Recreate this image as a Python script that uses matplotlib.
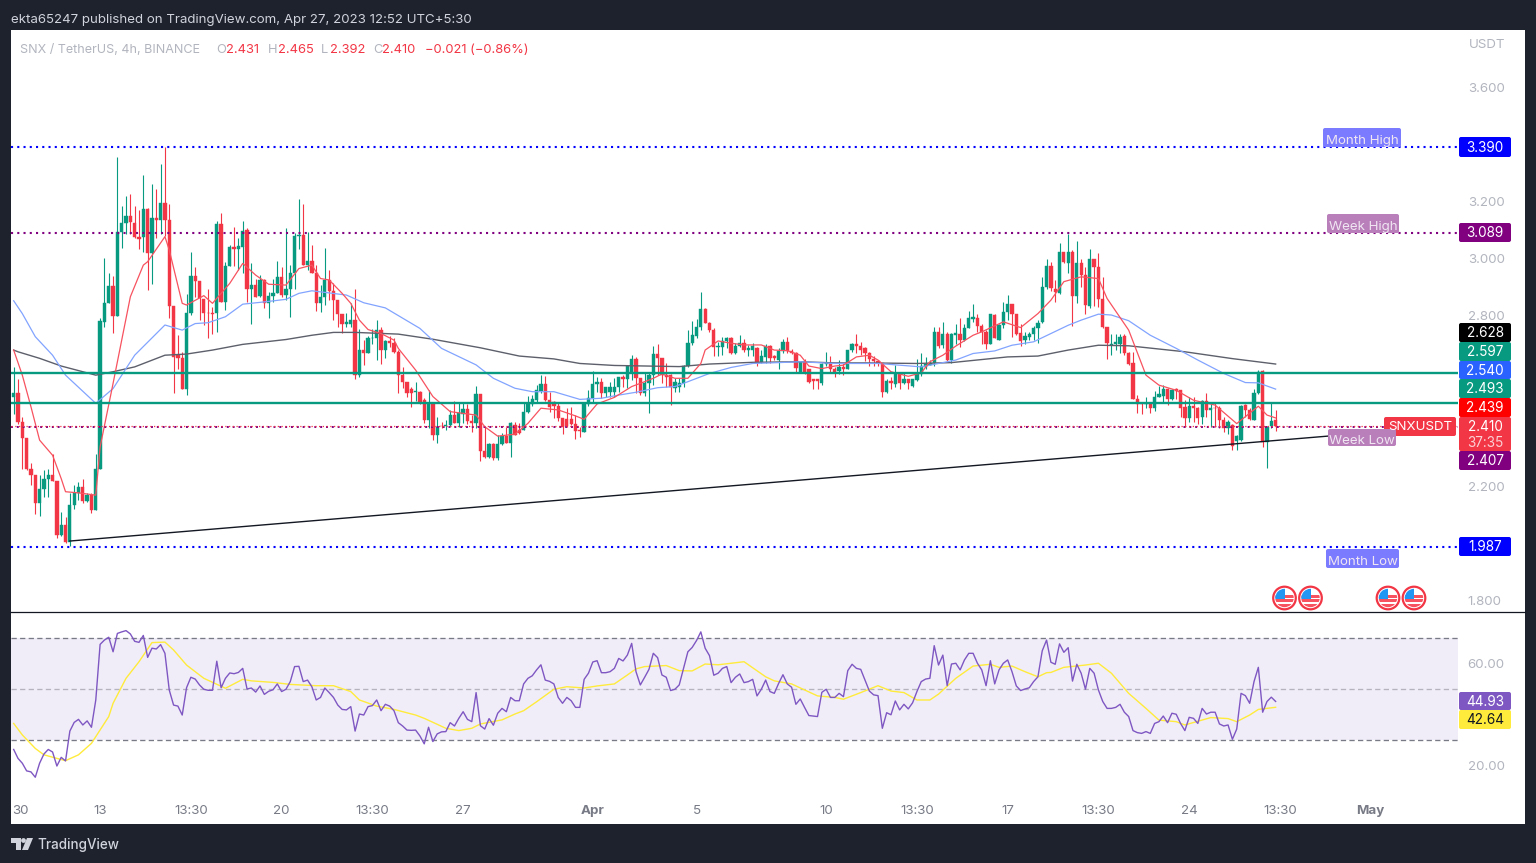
import numpy as np
import matplotlib
matplotlib.use("Agg")
import matplotlib.pyplot as plt
from matplotlib.patches import Rectangle, FancyBboxPatch, Circle, Polygon

plt.rcParams['font.family'] = ['Inter', 'DejaVu Sans']

# 4h candles
opens = [2.513,2.528,2.425,2.367,2.258,2.238,2.139,2.188,2.223,2.240,
 2.217,2.027,2.065,2.004,2.135,2.176,2.197,2.147,2.168,2.115,
 2.258,2.776,2.843,2.901,2.796,3.092,3.124,3.147,3.124,3.072,
 3.072,3.171,3.016,3.142,3.135,3.194,3.135,2.831,2.659,2.650,
 2.539,2.806,2.938,2.919,2.855,2.808,2.806,2.806,3.119,2.846,
 2.972,3.040,3.030,3.040,3.098,2.893,2.905,2.866,2.923,2.841,
 2.868,2.878,2.932,2.870,2.890,2.948,3.077,3.080,2.975,2.990,
 2.946,2.843,2.864,2.923,2.885,2.852,2.803,2.770,2.770,2.784,
 2.589,2.679,2.667,2.718,2.718,2.749,2.677,2.708,2.703,2.671,
 2.590,2.566,2.539,2.531,2.531,2.502,2.432,2.492,2.379,2.412,
 2.409,2.414,2.449,2.420,2.453,2.469,2.429,2.420,2.522,2.323,
 2.301,2.347,2.297,2.347,2.375,2.350,2.413,2.396,2.396,2.461,
 2.488,2.502,2.535,2.558,2.502,2.496,2.481,2.437,2.435,2.435,
 2.418,2.396,2.391,2.488,2.508,2.557,2.564,2.527,2.529,2.531,
 2.546,2.581,2.574,2.601,2.645,2.578,2.527,2.560,2.590,2.663,
 2.648,2.590,2.590,2.543,2.549,2.563,2.621,2.701,2.726,2.759,
 2.820,2.771,2.748,2.689,2.689,2.710,2.718,2.666,2.691,2.701,
 2.677,2.677,2.685,2.636,2.652,2.691,2.656,2.642,2.675,2.707,
 2.675,2.668,2.595,2.636,2.612,2.574,2.574,2.563,2.628,2.632,
 2.612,2.604,2.618,2.612,2.677,2.698,2.691,2.686,2.667,2.647,
 2.639,2.633,2.530,2.567,2.557,2.595,2.560,2.574,2.551,2.571,
 2.592,2.618,2.624,2.630,2.740,2.694,2.733,2.642,2.729,2.735,
 2.714,2.756,2.787,2.791,2.763,2.740,2.698,2.800,2.714,2.764,
 2.811,2.838,2.803,2.738,2.714,2.724,2.732,2.756,2.776,2.897,
 2.972,2.890,2.878,3.020,2.984,3.020,2.866,2.983,2.940,2.831,
 2.998,2.967,2.855,2.759,2.694,2.700,2.700,2.726,2.667,2.632,
 2.507,2.492,2.489,2.492,2.472,2.513,2.515,2.542,2.504,2.540,
 2.536,2.478,2.437,2.480,2.472,2.443,2.499,2.468,2.475,2.475,
 2.431,2.405,2.413,2.358,2.361,2.484,2.468,2.433,2.525,2.604,
 2.355,2.410,2.431]
closes = [2.528,2.425,2.367,2.258,2.238,2.139,2.188,2.223,2.240,2.217,
 2.027,2.065,2.004,2.135,2.176,2.197,2.147,2.168,2.115,2.261,
 2.780,2.841,2.901,2.796,3.092,3.124,3.147,3.127,3.072,3.068,
 3.171,3.016,3.142,3.135,3.194,3.135,2.831,2.653,2.650,2.539,
 2.806,2.938,2.919,2.858,2.808,2.806,2.803,3.119,2.846,2.972,
 3.040,3.030,3.042,3.094,2.893,2.905,2.864,2.923,2.841,2.868,
 2.878,2.932,2.870,2.890,2.948,3.077,3.080,2.975,2.990,2.946,
 2.843,2.864,2.923,2.885,2.852,2.803,2.770,2.775,2.784,2.589,
 2.679,2.667,2.718,2.721,2.749,2.677,2.708,2.703,2.671,2.589,
 2.566,2.525,2.527,2.533,2.490,2.432,2.492,2.379,2.408,2.409,
 2.414,2.449,2.420,2.457,2.469,2.429,2.420,2.522,2.323,2.301,
 2.347,2.297,2.347,2.375,2.350,2.420,2.379,2.385,2.461,2.492,
 2.504,2.537,2.558,2.502,2.478,2.481,2.437,2.408,2.412,2.418,
 2.394,2.394,2.488,2.508,2.557,2.564,2.527,2.546,2.546,2.549,
 2.581,2.574,2.621,2.645,2.578,2.527,2.560,2.590,2.663,2.648,
 2.590,2.581,2.546,2.564,2.563,2.621,2.701,2.730,2.759,2.820,
 2.771,2.748,2.689,2.691,2.710,2.718,2.666,2.691,2.701,2.677,
 2.683,2.691,2.633,2.656,2.691,2.648,2.648,2.675,2.707,2.675,
 2.666,2.613,2.636,2.597,2.566,2.569,2.569,2.628,2.632,2.609,
 2.597,2.618,2.612,2.677,2.698,2.693,2.679,2.665,2.644,2.639,
 2.632,2.530,2.567,2.560,2.595,2.560,2.576,2.562,2.574,2.592,
 2.622,2.628,2.630,2.740,2.691,2.733,2.642,2.733,2.738,2.714,
 2.756,2.791,2.794,2.763,2.740,2.698,2.802,2.721,2.764,2.811,
 2.840,2.803,2.735,2.709,2.726,2.732,2.756,2.773,2.897,2.972,
 2.895,2.881,3.020,2.987,3.020,2.866,2.983,2.940,2.835,2.998,
 2.969,2.855,2.759,2.702,2.700,2.706,2.724,2.665,2.628,2.507,
 2.489,2.487,2.492,2.472,2.513,2.522,2.542,2.504,2.536,2.533,
 2.475,2.437,2.480,2.472,2.440,2.499,2.466,2.472,2.472,2.433,
 2.405,2.425,2.340,2.375,2.480,2.468,2.435,2.525,2.601,2.355,
 2.408,2.429,2.410]
highs = [2.616,2.574,2.443,2.367,2.281,2.238,2.238,2.256,2.261,2.314,
 2.217,2.109,2.092,2.174,2.203,2.215,2.223,2.174,2.176,2.314,
 2.788,3.000,2.946,2.937,3.353,3.182,3.218,3.223,3.182,3.168,
 3.291,3.174,3.258,3.241,3.330,3.390,3.189,2.831,2.729,2.671,
 2.873,3.020,2.969,2.919,2.855,2.893,2.829,3.131,3.157,2.987,
 3.045,3.110,3.069,3.130,3.104,2.981,2.928,2.940,2.926,2.879,
 2.928,2.990,2.969,3.107,2.975,3.089,3.206,3.189,3.092,3.045,
 2.975,2.905,3.034,2.958,2.911,2.852,2.803,2.808,2.843,2.890,
 2.750,2.714,2.726,2.750,2.784,2.759,2.714,2.726,2.718,2.677,
 2.619,2.566,2.546,2.566,2.533,2.508,2.537,2.492,2.443,2.426,
 2.432,2.467,2.499,2.490,2.490,2.488,2.449,2.551,2.522,2.408,
 2.352,2.350,2.379,2.385,2.408,2.426,2.426,2.420,2.490,2.516,
 2.519,2.554,2.590,2.586,2.531,2.499,2.496,2.437,2.473,2.478,
 2.449,2.408,2.490,2.537,2.605,2.584,2.578,2.546,2.566,2.578,
 2.584,2.590,2.621,2.660,2.652,2.578,2.601,2.595,2.691,2.698,
 2.648,2.630,2.592,2.578,2.578,2.625,2.747,2.780,2.785,2.882,
 2.824,2.774,2.753,2.707,2.722,2.724,2.722,2.701,2.730,2.716,
 2.695,2.701,2.689,2.677,2.698,2.695,2.660,2.683,2.715,2.722,
 2.680,2.671,2.636,2.644,2.612,2.576,2.577,2.632,2.671,2.656,
 2.618,2.642,2.632,2.679,2.702,2.732,2.706,2.688,2.671,2.656,
 2.642,2.633,2.574,2.583,2.624,2.601,2.601,2.577,2.576,2.647,
 2.665,2.651,2.642,2.759,2.759,2.776,2.741,2.738,2.770,2.788,
 2.770,2.815,2.837,2.803,2.768,2.747,2.805,2.805,2.770,2.846,
 2.870,2.840,2.805,2.770,2.741,2.741,2.761,2.784,2.932,2.998,
 2.987,2.922,3.053,3.020,3.086,3.028,3.060,2.998,2.969,3.030,
 2.998,3.016,2.932,2.759,2.735,2.735,2.735,2.735,2.671,2.671,
 2.519,2.495,2.511,2.495,2.534,2.552,2.554,2.544,2.540,2.544,
 2.536,2.501,2.513,2.513,2.478,2.501,2.525,2.492,2.495,2.480,
 2.443,2.431,2.417,2.378,2.484,2.489,2.472,2.542,2.606,2.606,
 2.410,2.492,2.465]
lows = [2.452,2.419,2.261,2.256,2.203,2.101,2.095,2.162,2.162,2.217,
 2.019,2.024,2.000,1.989,2.121,2.150,2.141,2.144,2.107,2.115,
 2.258,2.759,2.841,2.738,2.796,3.034,3.084,3.084,3.069,3.030,
 3.022,2.887,2.908,3.069,3.086,3.077,2.791,2.527,2.609,2.539,
 2.519,2.800,2.862,2.782,2.765,2.721,2.733,2.741,2.846,2.817,
 2.972,2.972,2.958,2.946,2.846,2.770,2.864,2.864,2.823,2.791,
 2.846,2.878,2.864,2.852,2.794,2.893,3.030,2.975,2.958,2.946,
 2.815,2.811,2.835,2.852,2.784,2.759,2.738,2.759,2.759,2.577,
 2.583,2.624,2.665,2.700,2.642,2.628,2.648,2.689,2.667,2.527,
 2.543,2.514,2.478,2.499,2.488,2.420,2.402,2.361,2.350,2.402,
 2.396,2.412,2.420,2.408,2.420,2.418,2.391,2.402,2.288,2.297,
 2.297,2.291,2.291,2.344,2.350,2.303,2.379,2.382,2.396,2.455,
 2.481,2.496,2.525,2.499,2.461,2.437,2.429,2.382,2.408,2.414,
 2.364,2.373,2.391,2.481,2.496,2.531,2.508,2.511,2.511,2.514,
 2.531,2.546,2.543,2.572,2.525,2.519,2.516,2.455,2.554,2.590,
 2.560,2.549,2.484,2.531,2.531,2.549,2.616,2.695,2.718,2.747,
 2.771,2.742,2.656,2.656,2.660,2.683,2.663,2.663,2.689,2.671,
 2.656,2.656,2.621,2.633,2.633,2.633,2.642,2.609,2.668,2.668,
 2.663,2.601,2.595,2.592,2.560,2.542,2.542,2.554,2.622,2.595,
 2.583,2.592,2.591,2.610,2.671,2.667,2.659,2.639,2.622,2.621,
 2.622,2.511,2.525,2.542,2.548,2.542,2.557,2.542,2.548,2.569,
 2.585,2.612,2.624,2.622,2.686,2.683,2.638,2.632,2.700,2.688,
 2.709,2.756,2.776,2.739,2.700,2.680,2.698,2.718,2.712,2.753,
 2.782,2.724,2.729,2.691,2.698,2.712,2.714,2.702,2.773,2.893,
 2.884,2.846,2.873,2.981,2.946,2.761,2.843,2.899,2.802,2.826,
 2.831,2.829,2.756,2.647,2.659,2.677,2.665,2.659,2.624,2.505,
 2.457,2.454,2.475,2.457,2.464,2.511,2.495,2.484,2.501,2.507,
 2.443,2.408,2.425,2.425,2.419,2.417,2.443,2.408,2.408,2.405,
 2.390,2.384,2.328,2.326,2.358,2.443,2.431,2.431,2.522,2.337,
 2.264,2.405,2.392]

# moving averages, read at the bends (bar number, price)
red_bars = [1,3,5,7,10,12,13,16,20,21,24,28,31,32,36,37,40,41,45,47,51,54,57,60,64,67,70,72,74,77,79,81,83,86,89,90,
 94,98,102,105,108,110,113,117,120,123,127,131,133,136,140,144,147,149,151,154,157,160,161,164,167,170,174,177,180,
 183,185,188,191,193,196,199,201,204,208,211,213,216,219,223,225,230,234,238,241,244,248,252,254,259,263,266,270,274,279,284,289,291,293]
red_vals = [2.677,2.589,2.478,2.361,2.308,2.226,2.180,2.176,2.168,2.337,2.560,2.864,2.975,2.987,3.075,3.028,2.841,2.835,2.868,2.841,2.911,2.981,2.940,2.908,2.905,2.963,2.975,2.928,2.923,2.876,2.841,2.782,2.749,2.735,2.712,2.683,
 2.607,2.514,2.461,2.455,2.449,2.408,2.375,2.382,2.420,2.473,2.467,2.446,2.434,2.488,2.511,2.549,2.566,2.578,2.593,2.578,2.578,2.630,2.677,2.709,2.701,2.695,2.695,2.677,2.675,
 2.659,2.621,2.612,2.621,2.624,2.653,2.659,2.642,2.601,2.585,2.597,2.636,2.659,2.691,2.729,2.741,2.776,2.756,2.805,2.852,2.917,2.934,2.928,2.858,2.747,2.589,2.554,2.536,2.501,2.484,2.419,2.480,2.449,2.439]
blue_bars = [1,3,6,10,13,20,24,29,36,40,43,46,50,54,59,64,67,70,78,82,87,90,95,100,108,112,117,121,126,132,137,141,145,150,154,157,162,167,172,178,
 183,191,201,206,211,213,219,223,228,232,237,241,245,248,252,255,259,264,270,275,281,286,289,293]
blue_vals = [2.850,2.805,2.724,2.659,2.589,2.490,2.542,2.659,2.765,2.747,2.770,2.773,2.794,2.838,2.846,2.855,2.876,2.885,2.870,2.843,2.825,2.798,2.753,2.683,2.625,2.578,2.543,2.531,2.531,2.504,2.508,2.519,2.529,2.545,2.549,2.566,2.595,2.616,2.630,2.633,
 2.636,2.630,2.630,2.624,2.618,2.624,2.642,2.665,2.674,2.694,2.706,2.735,2.764,2.782,2.803,2.800,2.780,2.729,2.683,2.642,2.595,2.563,2.562,2.540]
grey_bars = [1,2,7,12,20,24,29,36,41,47,54,64,70,75,80,90,98,109,118,126,132,140,155,162,172,183,191,198,210,218,231,238,245,252,259,272,283,293]
grey_vals = [2.677,2.671,2.648,2.621,2.589,2.601,2.618,2.659,2.663,2.677,2.697,2.714,2.729,2.739,2.739,2.733,2.715,2.685,2.656,2.646,2.630,2.623,2.619,2.628,2.634,2.636,2.632,2.632,2.630,2.633,2.653,2.656,2.677,2.694,2.692,2.671,2.647,2.628]

trend_bars = [14, 305]
trend_vals = [2.007, 2.375]

# RSI per bar
rsi_vals = [26.1,22.6,20.7,17.7,17.3,15.2,20.7,24.3,26.1,25.1,19.6,23.0,21.6,33.3,36.7,37.9,35.7,37.3,34.8,45.5,
 67.3,69.0,70.1,64.4,71.6,72.2,72.7,71.4,68.5,68.1,70.8,62.2,65.8,65.5,67.2,63.8,49.4,43.5,43.1,39.6,
 50.3,54.4,53.7,51.4,49.7,49.3,49.3,60.7,50.3,54.0,56.1,55.8,56.3,57.9,49.8,50.2,48.6,51.0,47.7,48.9,
 49.5,51.8,48.8,49.7,52.7,58.6,58.7,52.7,53.3,50.7,45.5,46.5,50.2,48.4,46.5,43.5,41.8,41.6,42.9,33.3,
 40.0,39.6,42.9,43.3,45.5,41.3,43.8,43.1,41.3,36.6,35.3,33.7,33.6,33.7,31.4,28.3,34.8,29.2,32.2,33.0,
 33.1,36.6,35.3,38.3,40.9,37.9,37.0,48.4,35.4,34.1,38.2,35.6,40.3,
 42.2,40.9,46.5,45.2,45.2,51.8,54.0,55.0,57.3,59.3,53.3,52.8,51.8,46.5,44.2,46.5,45.2,42.6,42.6,53.6,
 56.0,60.4,60.9,56.2,56.2,56.6,57.9,61.8,60.8,63.1,67.7,56.6,51.4,54.4,57.5,63.8,62.1,55.3,54.4,49.2,
 49.7,51.4,57.9,64.4,66.1,68.8,72.2,65.8,62.9,55.2,56.0,57.9,58.6,52.3,54.4,55.7,52.3,52.7,53.6,47.1,
 49.7,53.3,48.8,48.1,52.0,55.4,51.8,50.5,43.8,45.9,42.6,39.4,39.2,39.0,48.5,49.7,46.5,46.5,48.1,46.8,
 57.0,59.5,57.9,57.5,53.3,49.0,47.5,47.2,34.4,40.5,39.7,45.1,41.6,43.8,42.0,44.4,48.8,52.7,53.7,54.0,
 66.8,59.2,63.1,51.1,59.6,59.9,57.3,61.2,63.8,63.8,59.9,57.3,51.1,60.9,51.8,57.3,
 59.9,61.2,56.6,51.0,49.2,49.8,50.3,52.7,54.6,64.8,69.0,60.3,59.5,67.5,64.2,66.0,52.9,59.5,56.0,49.7,
 57.9,56.0,49.4,44.9,42.2,42.2,42.6,43.8,40.7,39.0,33.5,32.7,32.4,33.1,32.4,36.3,37.0,39.2,36.6,40.3,
 39.9,36.3,33.5,38.7,38.3,36.3,42.2,40.0,40.7,40.7,36.1,35.3,35.7,30.1,34.1,48.1,47.2,44.2,52.7,58.3,
 40.7,44.9,46.6,44.93]
rsi_ma_bars = [1,3,6,8,11,13,16,19,23,24,27,30,33,36,38,41,45,50,54,56,61,65,71,75,79,81,85,89,94,96,101,104,107,109,114,
 117,119,122,126,129,133,136,140,143,145,147,152,155,158,161,164,170,175,177,181,187,191,193,197,201,204,207,210,213,215,219,223,227,
 229,232,235,238,240,241,244,249,252,255,259,263,266,270,272,278,282,284,287,289,293]
rsi_ma_vals = [36.3,31.8,26.5,24.0,22.6,21.7,24.0,28.5,39.0,44.2,54.0,60.5,68.0,68.2,65.1,59.2,54.0,50.1,53.6,53.0,52.4,51.6,51.1,51.1,48.8,45.5,43.1,41.8,39.6,38.3,34.4,33.5,34.4,36.1,37.7,
 40.0,41.3,44.8,49.7,50.7,50.2,51.0,51.8,55.3,57.7,58.6,59.0,57.0,56.9,59.6,59.3,60.5,54.6,53.0,51.8,47.1,46.5,45.8,48.4,51.1,49.0,48.4,45.5,45.5,47.8,54.0,58.8,59.5,
 58.3,58.8,56.6,54.6,56.2,56.3,58.3,59.2,59.9,56.0,48.1,42.2,37.6,37.0,35.7,38.6,38.2,37.0,39.6,41.8,42.64]

price_ticks = [3.6, 3.2, 3.0, 2.8, 2.2, 1.8]
rsi_ticks = [60, 20]
date_ticks = [2.5, 21, 42, 63, 84, 105, 135, 159, 189, 210, 231, 252, 273, 294, 315]
date_labels = ['30', '13', '13:30', '20', '13:30', '27', 'Apr', '5', '10', '13:30', '17', '13:30', '24', '13:30', 'May']

month_high, week_high, week_low, month_low, last_close = 3.390, 3.089, 2.407, 1.987, 2.410
green_levels = [2.597, 2.493]

# right hand value tags: text, background, text colour, top px, bottom px
tags = [('3.390', '#0000ff', 'white', 137, 157),
        ('3.089', '#800080', 'white', 223, 242),
        ('2.628', '#000000', 'white', 323, 342),
        ('2.597', '#089981', 'white', 342, 361),
        ('2.540', '#2962ff', 'white', 361, 379),
        ('2.493', '#089981', 'white', 379, 398),
        ('2.439', '#ff0000', 'white', 398, 417),
        ('2.407', '#800080', 'white', 451, 470),
        ('1.987', '#0000ff', 'white', 537, 556),
        ('44.93', '#7e57c2', 'white', 692, 710),
        ('42.64', '#ffeb3b', '#131722', 710, 729)]

DARK = '#1e222d'
GREEN = '#089981'
RED = '#f23645'
GREY = '#b2b5be'

fig = plt.figure(figsize=(15.36, 8.63), dpi=100, facecolor=DARK)
W, H = 1536., 863.


def axes_px(x0, y0, x1, y1):
    return [x0 / W, 1 - y1 / H, (x1 - x0) / W, (y1 - y0) / H]


fig.add_artist(Rectangle((11 / W, 1 - 824 / H), 1514 / W, 794 / H, transform=fig.transFigure,
                         facecolor='white', edgecolor='none', zorder=0))

ax = fig.add_axes(axes_px(11, 30, 1458, 612), facecolor='none', zorder=1)
rsi_ax = fig.add_axes(axes_px(11, 612, 1458, 790), facecolor='none', zorder=1)
xlim = (0.382, 335.2)

# candles
bars = np.arange(1, len(closes) + 1)
o, c, h, l = map(np.array, (opens, closes, highs, lows))
cols = np.where(c >= o, GREEN, RED)
ax.vlines(bars, l, h, colors=cols, linewidth=0.8, zorder=3)
ax.bar(bars, np.abs(c - o), bottom=np.minimum(o, c), width=0.76, color=cols, edgecolor=cols, linewidth=0.3, zorder=3)

ax.plot(grey_bars, grey_vals, color='#5d606b', lw=1.0, zorder=4)
ax.plot(blue_bars, blue_vals, color='#82a4ff', lw=0.9, zorder=4)
ax.plot(red_bars, red_vals, color='#f7525f', lw=0.9, zorder=4)
ax.plot(trend_bars, trend_vals, color='#131722', lw=1.0, zorder=5)

for lev in green_levels:
    ax.axhline(lev, color=GREEN, lw=1.7, zorder=5)
dots = (0, (1, 2.0))
ax.axhline(month_high, color='#0000ff', lw=1.5, ls=dots, zorder=5)
ax.axhline(month_low, color='#0000ff', lw=1.5, ls=dots, zorder=5)
ax.axhline(week_high, color='#800080', lw=1.5, ls=dots, zorder=5)
ax.axhline(week_low, color='#800080', lw=1.4, ls=dots, zorder=5)
ax.axhline(last_close, color=RED, lw=0.9, ls=(0, (1, 2)), zorder=5)

ax.set_xlim(xlim)
ax.set_ylim(1.758, 3.8)
ax.set_xticks([])
ax.yaxis.tick_right()
ax.set_yticks(price_ticks)
ax.set_yticklabels(['%.3f' % t for t in price_ticks])
ax.tick_params(axis='y', length=0, pad=7, labelsize=9.6, labelcolor=GREY)

# RSI pane
rsi_ax.axhspan(30, 70, color='#7e57c2', alpha=0.1, lw=0, zorder=1)
dashes = (0, (4, 2.5))
rsi_ax.axhline(70, color='#787b86', lw=0.95, ls=dashes, zorder=2)
rsi_ax.axhline(50, color='#787b86', lw=0.95, ls=dashes, alpha=0.5, zorder=2)
rsi_ax.axhline(30, color='#787b86', lw=0.95, ls=dashes, zorder=2)
rsi_ax.plot(rsi_ma_bars, rsi_ma_vals, color='#ffeb3b', lw=1, zorder=3)
rsi_ax.plot(np.arange(1, len(rsi_vals) + 1), rsi_vals, color='#7e57c2', lw=1, zorder=4)
rsi_ax.set_xlim(xlim)
rsi_ax.set_ylim(10.2, 80)
rsi_ax.yaxis.tick_right()
rsi_ax.set_yticks(rsi_ticks)
rsi_ax.set_yticklabels(['%.2f' % t for t in rsi_ticks])
rsi_ax.tick_params(axis='y', length=0, pad=7, labelsize=9.6, labelcolor=GREY)
rsi_ax.set_xticks(date_ticks)
rsi_ax.set_xticklabels(date_labels)
rsi_ax.tick_params(axis='x', length=0, pad=11, labelsize=9.6, labelcolor='#787b86')
for lab in rsi_ax.get_xticklabels():
    if lab.get_text() in ('Apr', 'May'):
        lab.set_fontweight('bold')

for a in (ax, rsi_ax):
    for s in a.spines.values():
        s.set_visible(False)

# overlay in pixel coordinates for the tradingview chrome
ov = fig.add_axes([0, 0, 1, 1], facecolor='none', zorder=5)
ov.set_xlim(0, W)
ov.set_ylim(H, 0)
ov.axis('off')

ov.plot([11, 1525], [612, 612], color='#131722', lw=0.9)
ov.text(11, 19.5, 'ekta65247 published on TradingView.com, Apr 27, 2023 12:52 UTC+5:30', color='#d1d4dc',
        fontsize=9.55, va='center', ha='left')
ov.text(20, 50, 'SNX / TetherUS, 4h, BINANCE', color=GREY, fontsize=9.05, va='center')
for x, t, col in [(216, 'O', GREY), (226, '2.431', RED), (268, 'H', GREY), (278, '2.465', RED), (321, 'L', GREY),
                  (330, '2.392', RED), (373, 'C', GREY), (382, '2.410', RED), (425, '\u22120.021 (\u22120.86%)', RED)]:
    ov.text(x, 50, t, color=col, fontsize=9.3, va='center')
ov.text(1487, 44.5, 'USDT', color=GREY, fontsize=9.6, va='center', ha='center')


def tag(x0, x1, y0, y1, col, alpha=1.0):
    ov.add_patch(FancyBboxPatch((x0, y0), x1 - x0, y1 - y0, boxstyle='round,pad=0,rounding_size=2',
                                facecolor=col, edgecolor='none', alpha=alpha))


for t, col, tcol, y0, y1 in tags:
    tag(1459, 1511, y0, y1, col)
    ov.text(1485, (y0 + y1) / 2 + 0.8, t, color=tcol, fontsize=9.8, ha='center', va='center')

# last price tag with countdown
tag(1459, 1511, 417, 451, RED)
ov.text(1485, 427, '2.410', color='white', fontsize=9.8, ha='center', va='center')
ov.text(1485, 442.5, '37:35', color='#fbd0d5', fontsize=9.8, ha='center', va='center')
tag(1384, 1456, 417, 436, RED)
ov.text(1420, 427, 'SNXUSDT', color='white', fontsize=9.6, ha='center', va='center')

# level notes
for txt, x0, x1, y0, y1, col in [('Month High', 1323, 1401, 128, 147, '#7b7bff'),
                                 ('Week High', 1327, 1399, 214, 233, '#b87fba'),
                                 ('Week Low', 1328, 1396, 429, 446, '#b87fba'),
                                 ('Month Low', 1326, 1399, 549, 568, '#7b7bff')]:
    tag(x0, x1, y0, y1, col)
    ov.text((x0 + x1) / 2, (y0 + y1) / 2 + 3.2, txt, color='#f0e6f2', fontsize=9.6, ha='center', va='center')


# economic event flags
def flag(cx, cy):
    ring = Circle((cx, cy), 11.3, facecolor='white', edgecolor='#f23645', lw=1.6)
    ov.add_patch(ring)
    inner = Circle((cx, cy), 9.2, transform=ov.transData)
    for yy in (cy - 3, cy + 1, cy + 6):
        r = Rectangle((cx - 10, yy), 20, 2.8 if yy < cy + 5 else 5, facecolor='#f7525f', edgecolor='none')
        ov.add_patch(r)
        r.set_clip_path(inner)
    b = Rectangle((cx - 10, cy - 10), 10, 10.5, facecolor='#2196f3', edgecolor='none')
    ov.add_patch(b)
    b.set_clip_path(inner)


for cx in (1284.5, 1310.5, 1388, 1414):
    flag(cx, 598)

# logo
ov.add_patch(Polygon([(11, 838), (20.5, 838), (20.5, 850), (16, 850), (16, 843), (11, 843)], closed=True,
                     facecolor='#d1d4dc', edgecolor='none'))
ov.add_patch(Circle((23.5, 840.5), 2.4, facecolor='#d1d4dc', edgecolor='none'))
ov.add_patch(Polygon([(27, 838), (33, 838), (28, 850), (22, 850)], closed=True, facecolor='#d1d4dc', edgecolor='none'))
ov.text(37, 844.5, 'TradingView', color='#d1d4dc', fontsize=9.7, va='center', ha='left', fontweight='medium')

fig.savefig('out.png', dpi=100, facecolor=fig.get_facecolor())
